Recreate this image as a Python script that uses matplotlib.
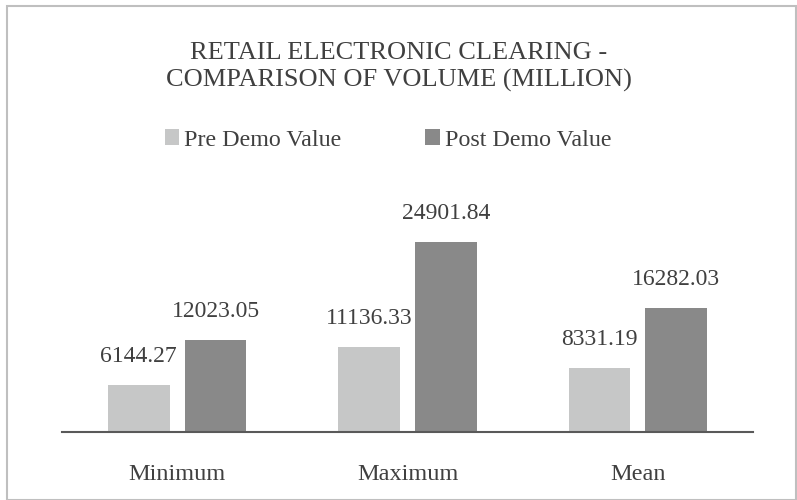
import matplotlib

matplotlib.use("Agg")
import matplotlib.pyplot as plt  # noqa: E402
import numpy as np  # noqa: E402
from matplotlib.patches import Rectangle  # noqa: E402

categories = ["Minimum", "Maximum", "Mean"]
pre_demo = [6144.27, 11136.33, 8331.19]
post_demo = [12023.05, 24901.84, 16282.03]
series_names = ["Pre Demo Value", "Post Demo Value"]

TITLE = "RETAIL ELECTRONIC CLEARING -\nCOMPARISON OF VOLUME (MILLION)"
PRE_COLOR = "#c6c7c7"
POST_COLOR = "#898989"
TEXT_COLOR = "#404040"

plt.rcParams["font.family"] = ["Liberation Serif", "DejaVu Serif"]

W, H = 797, 500
fig = plt.figure(figsize=(W / 100, H / 100), dpi=100)

# axes placed in pixel terms: baseline at y=432, x from 62 to 753
ax = fig.add_axes([62 / W, (H - 432) / H, (753 - 62) / W, 229 / H])
x = np.arange(len(categories))
bw = 0.268
off = 0.167
b1 = ax.bar(x - off, pre_demo, bw, color=PRE_COLOR, label=series_names[0])
b2 = ax.bar(x + off, post_demo, bw, color=POST_COLOR, label=series_names[1])
ax.set_xlim(-0.5, 2.5)
ax.set_ylim(0, 30000)

for bars, vals in ((b1, pre_demo), (b2, post_demo)):
    for rect, v in zip(bars, vals):
        ax.annotate(f"{v:.2f}", (rect.get_x() + rect.get_width() / 2, v),
                    xytext=(0, 13), textcoords="offset points",
                    ha="center", va="bottom", fontsize=17, color=TEXT_COLOR)

for s in ("top", "right", "left"):
    ax.spines[s].set_visible(False)
ax.spines["bottom"].set_color("#595959")
ax.spines["bottom"].set_linewidth(1.5)
ax.set_yticks([])
ax.set_xticks(x)
ax.set_xticklabels(categories, fontsize=17.5, color=TEXT_COLOR)
ax.tick_params(axis="x", length=0, pad=23)

fig.text(0.5, 1 - 67 / H, TITLE, ha="center", va="center", fontsize=19,
         color=TEXT_COLOR, linespacing=1.3)

fig.legend(handles=[b1, b2], labels=series_names, loc="center",
           bbox_to_anchor=(388 / W, 1 - 140 / H), ncol=2, frameon=False,
           fontsize=17.3, handlelength=0.6, handleheight=0.6, handletextpad=0.2,
           columnspacing=3.5, labelcolor=TEXT_COLOR)

# outer chart border
fig.patches.append(Rectangle((7 / W, 0), 1 - 8 / W, 1 - 6 / H,
                             transform=fig.transFigure, fill=False,
                             edgecolor="#bfbfbf", linewidth=1.5))

fig.savefig("out.png", dpi=100)
